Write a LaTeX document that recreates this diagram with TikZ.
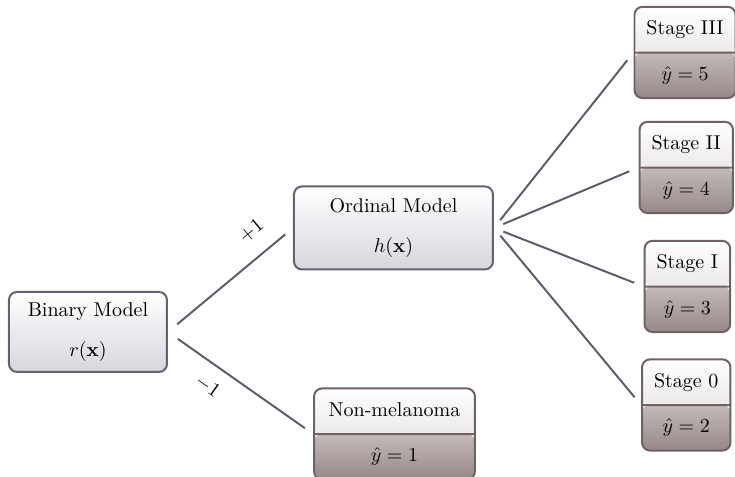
\documentclass[tikz,border=0pt]{standalone}
\usepackage{amsmath}
\usetikzlibrary{shapes.multipart}
\definecolor{edgegray}{RGB}{94,93,108}
\definecolor{modelline}{RGB}{100,98,112}
\definecolor{modelbot}{RGB}{214,214,222}
\definecolor{leafline}{RGB}{112,98,98}
\definecolor{leaftopbot}{RGB}{216,211,211}
\definecolor{leafbottop}{RGB}{196,186,186}
\definecolor{leafbotbot}{RGB}{150,136,136}

\begin{document}
\begin{tikzpicture}[
  model/.style={rectangle, draw=modelline, line width=1pt, rounded corners=4pt,
    top color=white, bottom color=modelbot, align=center},
  leaf/.style={rectangle split, rectangle split parts=2, draw=leafline, line width=1pt,
    rounded corners=4pt, inner xsep=6pt, inner ysep=6.4pt,
    path picture={
      \shade[top color=white, bottom color=leaftopbot] (path picture bounding box.north west) rectangle (path picture bounding box.east);
      \shade[top color=leafbottop, bottom color=leafbotbot] (path picture bounding box.west) rectangle (path picture bounding box.south east);
    }},
  branch/.style={draw=edgegray, line width=1pt, shorten <=5pt, shorten >=5pt}
]
\useasboundingbox (0,0) rectangle (12.917,8.382);

% Models
\node[model, minimum width=79pt, minimum height=40pt] (binary) at (1.546,2.548) {Binary Model\\[8pt]$r(\mathbf{x})$};
\node[model, minimum width=99.5pt, minimum height=41.5pt] (ordinal) at (6.915,4.376) {Ordinal Model\\[8pt]$h(\mathbf{x})$};

% Outcomes
\node[leaf, inner xsep=7.3pt] (nonmel) at (6.933,0.756) {Non-melanoma\vphantom{g}\nodepart{two}$\hat{y}=1$};
\node[leaf] (stage3) at (12.04,7.460) {Stage III\nodepart{two}$\hat{y}=5$};
\node[leaf] (stage2) at (12.06,5.439) {Stage II\nodepart{two}$\hat{y}=4$};
\node[leaf] (stage1) at (12.08,3.348) {Stage I\nodepart{two}$\hat{y}=3$};
\node[leaf] (stage0) at (12.06,1.265) {Stage 0\nodepart{two}$\hat{y}=2$};

% Branches
\draw[branch, shorten <=6pt] (binary.east) -- node[pos=0.79, sloped, above=4.5pt] {$+1$} (ordinal.west);
\draw[branch, shorten <=6pt] (binary.east) -- node[pos=0.36, sloped, below=3.5pt] {$-1$} (nonmel.west);
\draw[branch] (ordinal.east) -- (stage3.west);
\draw[branch] (ordinal.east) -- (stage2.west);
\draw[branch] (ordinal.east) -- (stage1.west);
\draw[branch] (ordinal.east) -- (stage0.west);
\end{tikzpicture}
\end{document}
